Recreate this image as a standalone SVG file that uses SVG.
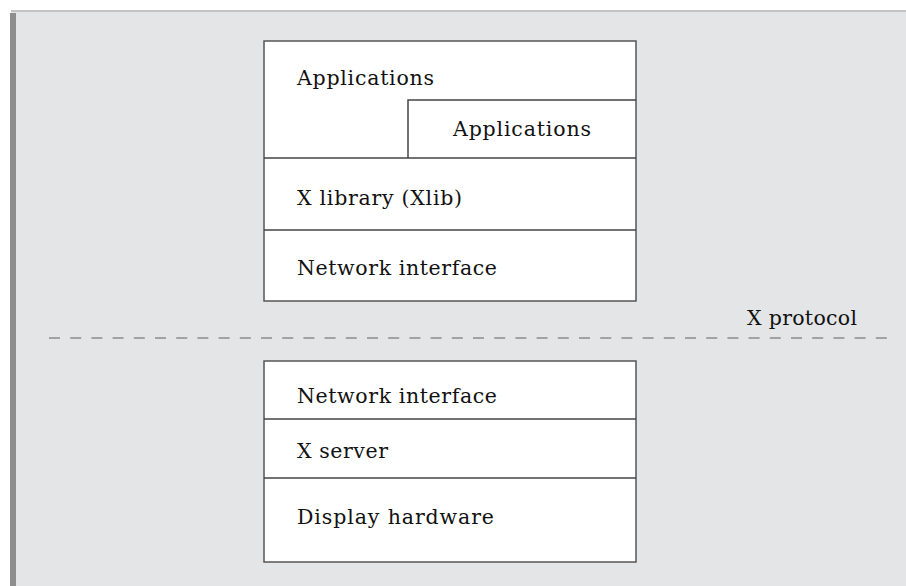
<svg xmlns="http://www.w3.org/2000/svg" width="906" height="586" viewBox="0 0 906 586">
<style>
.lbl{font-family:"DejaVu Serif","Liberation Serif",serif;font-size:20.5px;fill:#111}
.box{fill:#ffffff;stroke:#555;stroke-width:1.5}
.sep{stroke:#444;stroke-width:1.5;fill:none}
</style>
<rect x="0" y="0" width="906" height="586" fill="#ffffff"/>
<rect x="11" y="11" width="895" height="575" fill="#e4e5e7"/>
<line x1="11" y1="11" x2="906" y2="11" stroke="#c4c4c4" stroke-width="2"/>
<rect x="10" y="13" width="6" height="573" fill="#8e8e8e"/>
<g id="client">
<rect class="box" x="264" y="41" width="372" height="260"/>
<polyline class="sep" points="408,158 408,100 636,100"/>
<line class="sep" x1="264" y1="158" x2="636" y2="158"/>
<line class="sep" x1="264" y1="230" x2="636" y2="230"/>
<text class="lbl" x="297" y="85" textLength="137" lengthAdjust="spacing">Applications</text>
<text class="lbl" x="453" y="136" textLength="138" lengthAdjust="spacing">Applications</text>
<text class="lbl" x="297" y="205" textLength="165" lengthAdjust="spacing">X library (Xlib)</text>
<text class="lbl" x="297" y="275" textLength="200" lengthAdjust="spacing">Network interface</text>
</g>
<g id="connectors">
<line x1="49" y1="338" x2="887" y2="338" stroke="#a2a2a2" stroke-width="2" stroke-dasharray="11,10.2"/>
</g>
<g id="protocol">
<text class="lbl" x="747" y="325" textLength="110" lengthAdjust="spacing">X protocol</text>
</g>
<g id="server">
<rect class="box" x="264" y="361" width="372" height="201"/>
<line class="sep" x1="264" y1="419" x2="636" y2="419"/>
<line class="sep" x1="264" y1="478" x2="636" y2="478"/>
<text class="lbl" x="297" y="403" textLength="200" lengthAdjust="spacing">Network interface</text>
<text class="lbl" x="297" y="458" textLength="91" lengthAdjust="spacing">X server</text>
<text class="lbl" x="297" y="524" textLength="197" lengthAdjust="spacing">Display hardware</text>
</g>
</svg>
